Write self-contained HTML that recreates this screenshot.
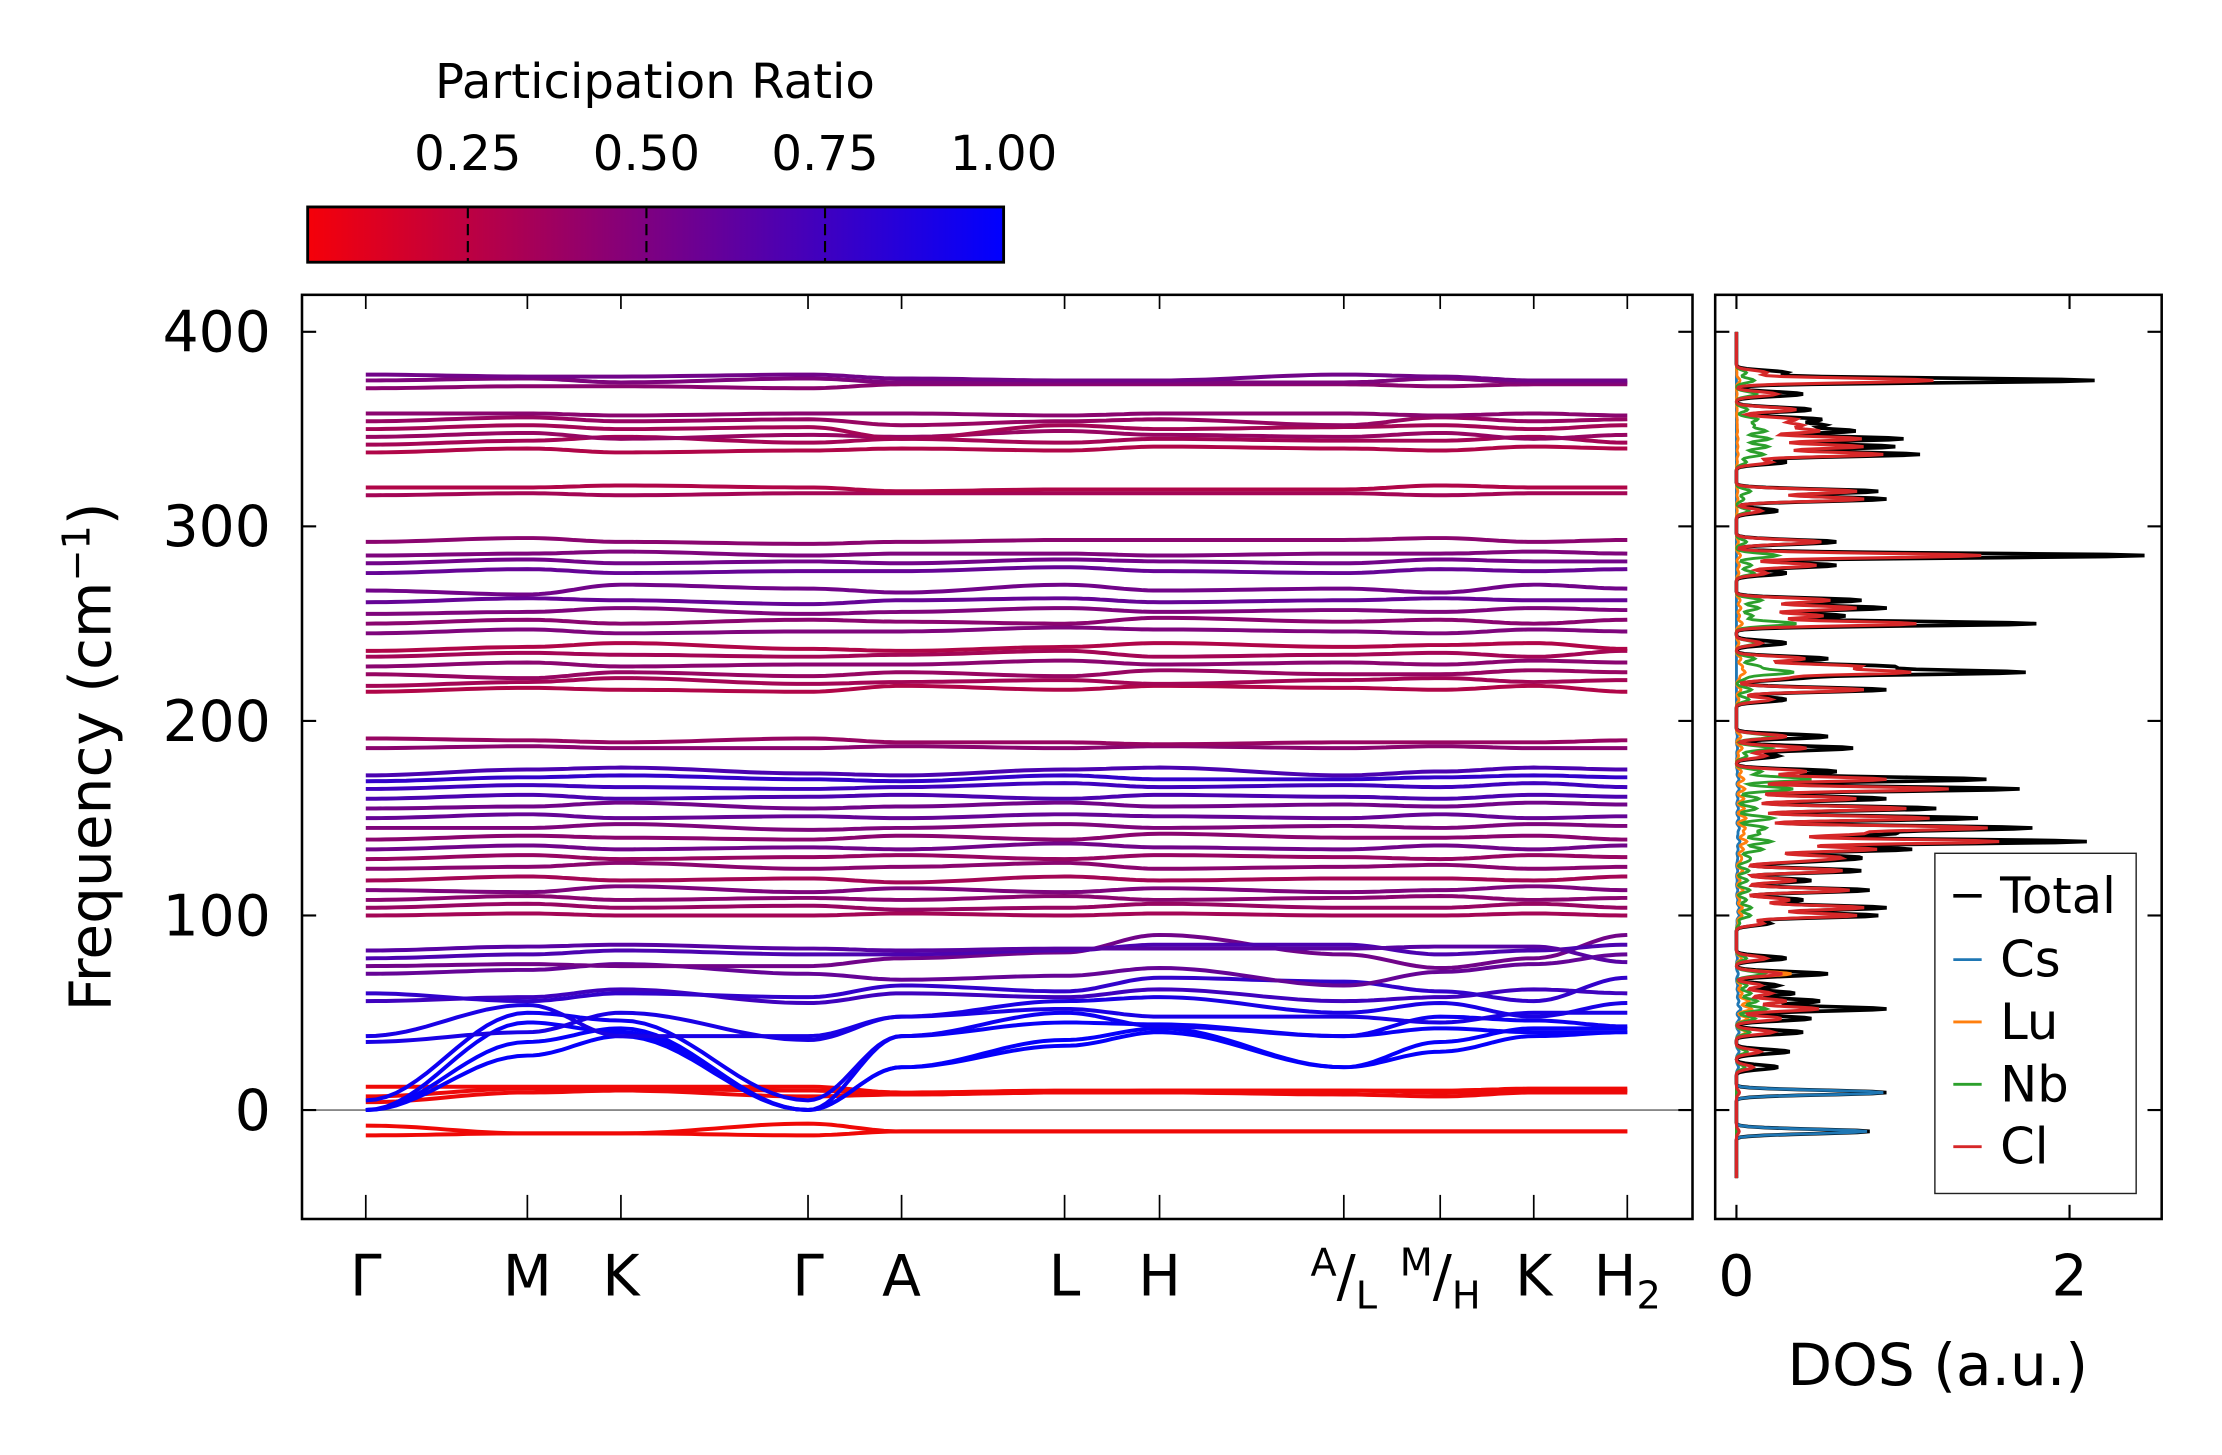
<!DOCTYPE html>
<html><head><meta charset="utf-8">
<style>
html,body{margin:0;padding:0;background:#fff;}
svg{display:block;font-family:"DejaVu Sans","Liberation Sans",sans-serif;}
</style></head>
<body>
<svg id="fig" width="2222" height="1455" viewBox="0 0 1567.5 1026.5" xmlns="http://www.w3.org/2000/svg">
<defs>
<linearGradient id="cbgrad" x1="0" x2="1" y1="0" y2="0">
<stop offset="0" stop-color="#f50009"/><stop offset="1" stop-color="#0000ff"/>
</linearGradient>
</defs>
<g>
<text x="462" y="69" font-size="34" text-anchor="middle">Participation Ratio</text>
<rect x="217" y="146" width="491" height="39" fill="url(#cbgrad)" stroke="#000" stroke-width="2"/>
<g id="cbticks"></g>
</g>
<g id="bandsAxes"></g>
<g id="dosAxes"></g>
<text transform="translate(78,534) rotate(-90)" font-size="41" text-anchor="middle">Frequency (cm<tspan dy="-15" font-size="27">−1</tspan><tspan dy="15">)</tspan></text>
<text x="1367" y="977" font-size="41" text-anchor="middle">DOS (a.u.)</text>
<g id="legend">
<rect x="1365" y="602" width="142" height="240" fill="#fff" stroke="#222" stroke-width="1"/>
<line x1="1378" x2="1398" y1="632" y2="632" stroke="#000" stroke-width="2.5"/><text x="1411" y="644" font-size="35">Total</text>
<line x1="1378" x2="1398" y1="677" y2="677" stroke="#1f77b4" stroke-width="2"/><text x="1411" y="689" font-size="35">Cs</text>
<line x1="1378" x2="1398" y1="721" y2="721" stroke="#ff7f0e" stroke-width="2"/><text x="1411" y="733" font-size="35">Lu</text>
<line x1="1378" x2="1398" y1="765" y2="765" stroke="#2ca02c" stroke-width="2"/><text x="1411" y="777" font-size="35">Nb</text>
<line x1="1378" x2="1398" y1="809" y2="809" stroke="#d62728" stroke-width="2"/><text x="1411" y="821" font-size="35">Cl</text>
</g>
</svg>
<script>
// ---------- data ----------
const kLabels = ["Γ","M","K","Γ","A","L","H","A/L","M/H","K","H2"];
const kDist = [0,1.14,1.80,3.12,3.78,4.93,5.60,6.90,7.58,8.24,8.90];
const yTicks = [0,100,200,300,400];
const cbTicks = [0.25,0.50,0.75,1.00];
const dosXTicks = [0,2];
const bandFreqs = [
[-13,-12,-12,-13,-11,-11,-11,-11,-11,-11,-11],
[-8,-12,-12,-7,-11,-11,-11,-11,-11,-11,-11],
[4,9,10,7,8,9,9,8,7,9,9],
[7,11,11,10,8,9,10,10,9,10,10],
[12,12,12,12,9,10,10,10,10,11,11],
[0,28,38,0,22,33,40,22,30,38,40],
[0,35,42,0,22,36,42,22,35,42,42],
[0,45,40,0,38,45,44,38,42,40,40],
[5,50,46,5,38,50,43,38,48,46,43],
[35,40,50,36,48,52,48,48,45,50,50],
[38,54,38,38,48,56,58,50,55,48,55],
[56,58,62,55,60,58,62,56,58,62,60],
[60,56,60,58,64,61,68,66,61,56,68],
[70,72,75,70,67,69,73,64,71,75,80],
[74,75,74,74,78,81,90,80,73,78,90],
[78,80,82,80,80,82,85,85,80,82,85],
[82,84,85,83,82,83,83,83,84,84,76],
[100,101,100,100,101,100,101,100,100,101,100],
[104,106,104,105,103,104,106,104,104,106,104],
[108,110,108,109,108,110,108,109,110,108,109],
[113,112,115,112,114,112,114,112,113,115,113],
[118,120,118,119,117,120,118,119,119,118,120],
[124,125,127,124,125,127,124,125,126,124,125],
[129,131,129,130,131,129,131,130,129,131,130],
[134,136,134,135,134,137,135,134,136,134,136],
[139,141,140,139,141,139,142,140,140,141,139],
[145,145,147,144,145,147,145,146,145,147,146],
[150,152,150,151,150,152,151,150,152,150,151],
[155,156,158,155,156,158,156,157,156,158,157],
[160,162,160,161,162,160,162,161,160,162,161],
[165,167,166,165,166,168,166,167,166,168,166],
[169,171,172,170,169,172,170,170,171,172,171],
[172,175,176,173,172,175,176,172,174,176,175],
[186,187,186,186,187,186,187,186,187,186,186],
[191,190,189,191,189,189,188,189,189,189,190],
[215,217,216,215,218,216,218,217,216,218,215],
[218,220,222,219,220,221,219,221,222,220,221],
[224,222,225,223,225,223,226,224,224,226,225],
[228,230,228,229,229,231,229,230,229,231,230],
[233,235,234,233,234,236,233,234,235,233,236],
[236,238,240,237,236,238,240,238,239,240,237],
[245,247,245,246,246,248,247,246,245,247,246],
[250,252,250,252,251,250,253,251,252,250,252],
[255,256,258,255,256,258,256,257,256,258,257],
[261,263,262,260,262,263,261,262,263,262,262],
[267,265,270,268,266,270,267,268,266,270,268],
[276,278,276,277,277,279,277,276,278,277,278],
[281,283,281,282,281,283,282,281,283,282,282],
[285,286,287,285,286,286,285,286,286,287,286],
[292,294,292,291,292,293,293,293,294,292,293],
[316,317,316,317,317,317,317,317,316,317,317],
[320,320,321,320,318,319,319,319,321,320,320],
[338,340,338,339,340,339,341,340,339,341,340],
[342,344,346,343,345,343,345,344,344,346,343],
[346,348,345,347,346,349,347,346,348,345,347],
[350,352,350,351,345,352,350,351,352,350,352],
[354,356,354,355,352,354,355,352,356,354,355],
[358,358,357,358,358,357,358,358,357,358,357],
[371,372,372,371,373,373,373,373,372,373,373],
[375,376,374,376,374,374,374,374,376,374,374],
[378,377,377,378,376,375,375,378,377,375,375]
];
const bandPR = [0.05,0.05,0.06,0.06,0.05,0.98,0.98,0.97,0.95,0.9,0.9,0.75,0.8,0.6,0.55,0.7,0.65,
0.35,0.4,0.45,0.5,0.35,0.45,0.4,0.55,0.45,0.5,0.6,0.55,0.7,0.75,0.8,0.7,
0.45,0.4,0.3,0.35,0.4,0.45,0.35,0.3,0.5,0.45,0.5,0.6,0.55,0.6,0.55,0.5,0.45,
0.35,0.3,0.3,0.35,0.4,0.35,0.4,0.45,0.45,0.5,0.55];
const totalPeakFreq = [-11,9,22,30,40,47,52,56,60,64,70,78,96,100,104,108,113,118,123,128,130,134,138,142,145,150,155,160,165,170,174,182,186,192,211,216,222,225,228,232,240,250,254,258,262,276,280,285,292,308,314,318,333,337,341,345,349,352,355,360,368,375,379];
const totalPeakH = [0.8,0.9,0.25,0.32,0.4,0.45,0.9,0.5,0.35,0.25,0.55,0.3,0.2,0.85,0.9,0.4,0.8,0.45,0.75,0.4,0.65,1.05,2.1,0.9,1.75,1.45,1.2,0.9,1.7,1.5,0.6,0.25,0.7,0.55,0.3,0.9,0.35,1.7,0.9,0.55,0.3,1.8,0.65,0.9,0.75,0.3,0.6,2.45,0.6,0.25,0.9,0.85,0.3,1.1,0.95,1.0,0.7,0.5,0.5,0.45,0.4,2.15,0.3];
const clFrac = [0.02,0.02,0.4,0.45,0.55,0.6,0.55,0.6,0.6,0.6,0.5,0.6,0.8,0.85,0.85,0.8,0.85,0.8,0.85,0.8,0.85,0.8,0.75,0.8,0.85,0.8,0.85,0.8,0.75,0.6,0.7,0.7,0.6,0.55,0.7,0.85,0.8,0.6,0.8,0.75,0.5,0.6,0.8,0.8,0.75,0.6,0.8,0.6,0.85,0.6,0.85,0.85,0.7,0.8,0.8,0.75,0.7,0.75,0.7,0.8,0.6,0.55,0.6];
const nbFrac = [0,0,0.2,0.2,0.2,0.25,0.2,0.25,0.25,0.25,0.3,0.2,0.1,0.1,0.1,0.15,0.1,0.15,0.1,0.15,0.1,0.15,0.1,0.15,0.1,0.15,0.1,0.15,0.2,0.3,0.25,0.25,0.3,0.4,0.25,0.1,0.15,0.2,0.15,0.2,0.4,0.2,0.15,0.15,0.2,0.35,0.15,0.1,0.1,0.3,0.05,0.1,0.2,0.15,0.2,0.2,0.25,0.2,0.25,0.15,0.3,0.05,0.2];
const luFrac = [0,0,0.2,0.2,0.15,0.15,0.1,0.15,0.1,0.1,0.6,0.1,0.05,0.04,0.04,0.05,0.05,0.05,0.05,0.05,0.04,0.04,0.03,0.05,0.03,0.04,0.04,0.05,0.03,0.03,0.05,0.05,0.05,0.05,0.05,0.03,0.05,0.03,0.04,0.05,0.05,0.02,0.03,0.03,0.03,0.05,0.03,0.01,0.02,0.02,0.01,0.01,0.02,0.01,0.01,0.01,0.01,0.01,0.01,0.01,0.01,0.01,0.01];
const csFrac = [0.98,0.98,0.05,0.05,0.04,0.04,0.03,0.03,0.03,0.03,0.02,0.02,0.02,0.02,0.02,0.02,0.01,0.01,0.01,0.01,0.01,0.01,0.01,0.01,0.01,0.01,0.01,0.01,0.01,0.01,0.01,0.01,0.01,0.01,0,0,0,0,0,0,0,0,0,0,0,0,0,0,0,0,0,0,0,0,0,0,0,0,0,0,0,0,0];

// ---------- geometry ----------
const NS="http://www.w3.org/2000/svg";
const M={l:213,r:1194,t:208,b:860}, D={l:1210,r:1525,t:208,b:860};
const yMin=-56, yMax=419;
const fy=v=>M.b-(v-yMin)/(yMax-yMin)*(M.b-M.t);
const kx=d=>258+d*100;
const dx=v=>1225+v*117.5;
const cbx=p=>204+p*504;
function mk(tag,attrs,parent){const e=document.createElementNS(NS,tag);for(const k in attrs)e.setAttribute(k,attrs[k]);parent.appendChild(e);return e;}
const bandG=document.getElementById('bandsAxes');
const dosG=document.getElementById('dosAxes');
const cbG=document.getElementById('cbticks');
function prColor(p){const t=Math.max(0,Math.min(1,(p-0.026)/0.974));const r=Math.round(245*(1-t)),b=Math.round(255*t),g=Math.round(9*(1-t));return `rgb(${r},${g},${b})`;}

cbTicks.forEach(p=>{
  if(p<1){
    const l=mk('line',{x1:cbx(p),x2:cbx(p),y1:146,y2:185,stroke:'#000','stroke-width':1.5,'stroke-dasharray':'8 4'},cbG);
    
    
  }
  const t=mk('text',{x:cbx(p),y:120,'font-size':34,'text-anchor':'middle'},cbG);
  t.textContent=p.toFixed(2);
  
  
});

const z=mk('line',{x1:M.l,x2:M.r,y1:fy(0),y2:fy(0),stroke:'#888','stroke-width':1.3},bandG);



bandFreqs.forEach((vals,bi)=>{
  let d='';
  for(let i=0;i<vals.length-1;i++){
    for(let s=0;s<=16;s++){
      const t=s/16;const w=(1-Math.cos(Math.PI*t))/2;
      const x=kx(kDist[i]+(kDist[i+1]-kDist[i])*t);
      const y=fy(vals[i]+(vals[i+1]-vals[i])*w);
      d+=(i===0&&s===0?'M':'L')+x.toFixed(1)+' '+y.toFixed(1);
    }
  }
  const p=mk('path',{d:d,fill:'none',stroke:prColor(bandPR[bi]),'stroke-width':2.8},bandG);
  
  
});

const f1=mk('rect',{x:M.l,y:M.t,width:M.r-M.l,height:M.b-M.t,fill:'none',stroke:'#000','stroke-width':1.8},bandG);


yTicks.forEach(v=>{
  mk('line',{x1:M.l,x2:M.l+10,y1:fy(v),y2:fy(v),stroke:'#000','stroke-width':1.5},bandG);
  mk('line',{x1:M.r-10,x2:M.r,y1:fy(v),y2:fy(v),stroke:'#000','stroke-width':1.5},bandG);
  mk('line',{x1:D.l,x2:D.l+10,y1:fy(v),y2:fy(v),stroke:'#000','stroke-width':1.5},dosG);
  mk('line',{x1:D.r-10,x2:D.r,y1:fy(v),y2:fy(v),stroke:'#000','stroke-width':1.5},dosG);
  const t=mk('text',{x:M.l-22,y:fy(v)+14,'font-size':40,'text-anchor':'end'},bandG);
  t.textContent=v;
  
  
});
kDist.forEach((d,i)=>{
  mk('line',{x1:kx(d),x2:kx(d),y1:M.t,y2:M.t+10,stroke:'#000','stroke-width':1.2},bandG);
  mk('line',{x1:kx(d),x2:kx(d),y1:M.b-17,y2:M.b,stroke:'#000','stroke-width':1.2},bandG);
  const lab=kLabels[i];
  const t=mk('text',{x:kx(d),y:914,'font-size':40,'text-anchor':'middle'},bandG);
  if(lab.includes('/')){const [a,b]=lab.split('/');
    t.innerHTML=`<tspan font-size="27" dy="-14">${a}</tspan><tspan dy="14">/</tspan><tspan font-size="27" dy="9">${b}</tspan>`;}
  else if(lab==='H2'){t.innerHTML='H<tspan font-size="27" dy="9">2</tspan>';}
  else t.textContent=lab;
  
  
});

function dosCurve(frac){
  const pts=[];
  for(let f=-35;f<=400;f+=0.5){
    let s=0;
    totalPeakFreq.forEach((pf,i)=>{const h=totalPeakH[i]*(frac?frac[i]:1);const g=(f-pf)/1.6;s+=h*Math.exp(-g*g);});
    pts.push([f,s]);
  }
  return pts;
}
[['#000',null,'dos-total',2.6],['#1f77b4',csFrac,'dos-cs',2],['#ff7f0e',luFrac,'dos-lu',2],['#2ca02c',nbFrac,'dos-nb',2],['#d62728',clFrac,'dos-cl',2.2]].forEach(([c,fr,n,w])=>{
  const pts=dosCurve(fr);
  const d=pts.map((p,i)=>(i?'L':'M')+dx(p[1]).toFixed(1)+' '+fy(p[0]).toFixed(1)).join('');
  const e=mk('path',{d:d,fill:'none',stroke:c,'stroke-width':w},dosG);
  
  
});
const f2=mk('rect',{x:D.l,y:D.t,width:D.r-D.l,height:D.b-D.t,fill:'none',stroke:'#000','stroke-width':1.8},dosG);


dosXTicks.forEach(v=>{
  mk('line',{x1:dx(v),x2:dx(v),y1:D.t,y2:D.t+10,stroke:'#000','stroke-width':1.5},dosG);
  mk('line',{x1:dx(v),x2:dx(v),y1:D.b-10,y2:D.b,stroke:'#000','stroke-width':1.5},dosG);
  const t=mk('text',{x:dx(v),y:914,'font-size':40,'text-anchor':'middle'},dosG);
  t.textContent=v;
  
  
});
const svg=document.getElementById('fig');
svg.appendChild(document.getElementById('legend'));
</script>
</body></html>
